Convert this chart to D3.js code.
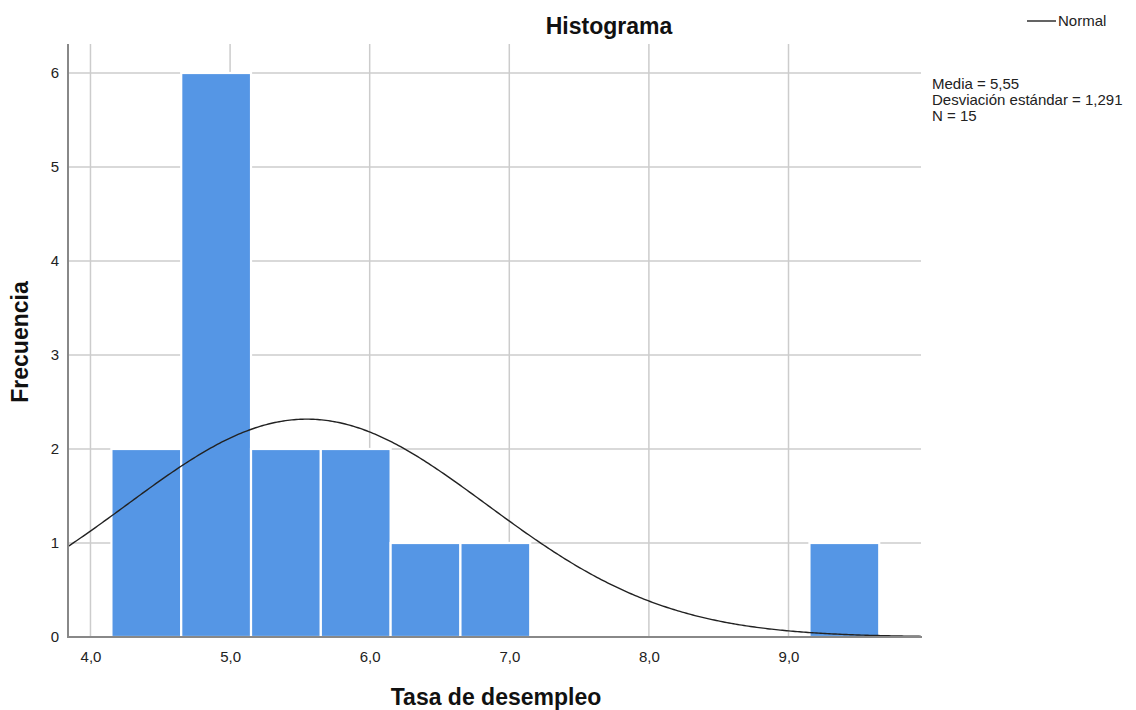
<!DOCTYPE html>
<html><head><meta charset="utf-8">
<script src="https://cdn.jsdelivr.net/npm/d3@7"></script>
<style>body{margin:0;background:#fff}svg{display:block}text{font-family:"Liberation Sans",Arial,sans-serif}</style>
</head><body><div id="c"></div>
<script>
const binEdges = [4.15,4.65,5.15,5.65,6.15,6.65,7.15,7.65,8.15,8.65,9.15,9.65];
const counts = [2,6,2,2,1,1,0,0,0,0,1];
const xTicks = [4,5,6,7,8,9];
const yTicks = [0,1,2,3,4,5,6];
const mean = 5.55, sd = 1.291, n = 15;
const statLines = ["Media = 5,55","Desviación estándar = 1,291","N = 15"];

const W=1136,H=710;
const L=68,R=921,T=44,B=637;
const svg=d3.select("#c").append("svg").attr("width",W).attr("height",H);
const x=d3.scaleLinear().domain([3.839,9.949]).range([L,R]);
const y=d3.scaleLinear().domain([0,6]).range([B,73]);
const fmt=d=>d.toFixed(1).replace(".",",");

// grid
svg.append("g").selectAll("line").data(xTicks).join("line")
 .attr("x1",d=>x(d)).attr("x2",d=>x(d)).attr("y1",T).attr("y2",B)
 .attr("stroke","#cccccc").attr("stroke-width",1.5);
svg.append("g").selectAll("line").data(yTicks.filter(d=>d>0)).join("line")
 .attr("x1",L).attr("x2",R).attr("y1",d=>y(d)).attr("y2",d=>y(d))
 .attr("stroke","#cccccc").attr("stroke-width",1.5);

// bars
const bins=counts.map((c,i)=>({x0:binEdges[i],x1:binEdges[i+1],c})).filter(b=>b.c>0);
svg.append("g").selectAll("rect").data(bins).join("rect")
 .attr("x",d=>x(d.x0)).attr("width",d=>x(d.x1)-x(d.x0))
 .attr("y",d=>y(d.c)).attr("height",d=>y(0)-y(d.c))
 .attr("fill","#5596e5").attr("stroke","#ffffff").attr("stroke-width",2.2);

// normal curve
const bw=binEdges[1]-binEdges[0];
const xs=d3.range(0,401).map(i=>3.839+(9.949-3.839)*i/400);
const line=d3.line().x(d=>x(d)).y(d=>y(n*bw/(sd*Math.sqrt(2*Math.PI))*Math.exp(-0.5*((d-mean)/sd)**2)));
svg.append("clipPath").attr("id","cp").append("rect").attr("x",L).attr("y",T).attr("width",R-L).attr("height",B-T);
svg.append("path").datum(xs).attr("d",line).attr("fill","none").attr("stroke","#222").attr("stroke-width",1.4).attr("clip-path","url(#cp)");

// axes
const xa=svg.append("g").attr("transform",`translate(0,${B})`).call(d3.axisBottom(x).tickValues(xTicks).tickFormat(fmt).tickSize(0).tickPadding(14));
xa.select(".domain").attr("stroke","#888").attr("stroke-width",2).attr("d",`M${L},0H${R+1}`);
xa.selectAll("text").attr("font-size",15).attr("fill","#222").attr("font-family","'Liberation Sans',Arial,sans-serif");
const ya=svg.append("g").attr("transform",`translate(${L},0)`).call(d3.axisLeft(y).tickValues(yTicks).tickFormat(d3.format("d")).tickSize(0).tickPadding(9));
ya.select(".domain").attr("stroke","#888").attr("stroke-width",2).attr("d",`M0,${T}V${B+1}`);
ya.selectAll("text").attr("font-size",15).attr("fill","#222").attr("font-family","'Liberation Sans',Arial,sans-serif");

// titles
svg.append("text").attr("x",609).attr("y",34).attr("text-anchor","middle").attr("font-size",23).attr("font-weight","bold").attr("fill","#111").text("Histograma");
svg.append("text").attr("x",496).attr("y",705).attr("text-anchor","middle").attr("font-size",23).attr("font-weight","bold").attr("fill","#111").text("Tasa de desempleo");
svg.append("text").attr("transform","translate(28,342) rotate(-90)").attr("text-anchor","middle").attr("font-size",23).attr("font-weight","bold").attr("fill","#111").text("Frecuencia");

// legend
svg.append("line").attr("x1",1027).attr("x2",1056).attr("y1",21).attr("y2",21).attr("stroke","#222").attr("stroke-width",1.4);
svg.append("text").attr("x",1058).attr("y",26).attr("font-size",15).attr("fill","#222").text("Normal");
svg.append("g").selectAll("text").data(statLines).join("text")
 .attr("x",932).attr("y",(d,i)=>89+i*16).attr("font-size",15).attr("fill","#222").text(d=>d);
</script></body></html>
